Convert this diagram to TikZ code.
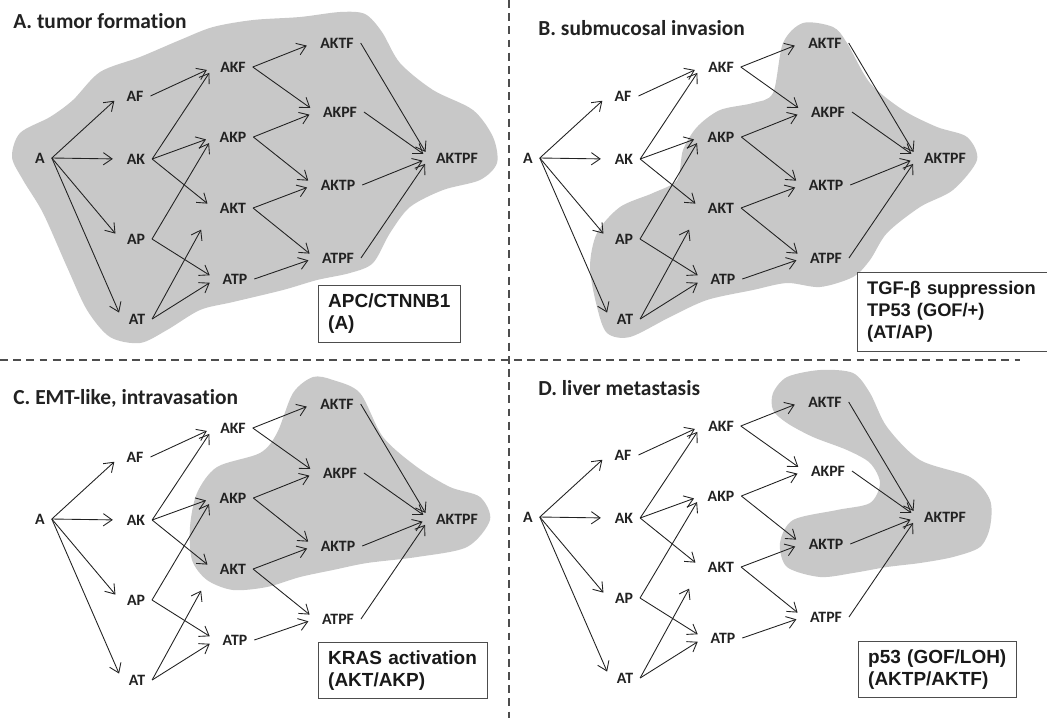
\documentclass[tikz,border=0pt]{standalone}
\usepackage{fontspec}
\setmainfont{Carlito}[Ligatures=NoCommon]
\newfontfamily\cajafont{Liberation Sans}
\usepackage{tikz}
\usetikzlibrary{arrows.meta}
\definecolor{gris}{HTML}{C8C8C8}
\definecolor{tinta}{HTML}{222222}
\definecolor{borde}{HTML}{4D4D4D}
\tikzset{
  every picture/.style={x=0.02cm, y=-0.02cm},
  gen/.style={font=\bfseries\fontsize{9}{10}\selectfont, text=tinta, inner sep=1pt, outer sep=3pt},
  titulo/.style={font=\bfseries\fontsize{12.2}{14}\selectfont, text=tinta, anchor=base west, inner sep=0pt},
  caja/.style={draw=borde, line width=0.6pt, fill=white, anchor=north west, align=left,
               font=\cajafont\bfseries\fontsize{10.8}{12.5}\selectfont, text=black!90, inner xsep=5.5pt},
  flecha/.style={-{Straight Barb[length=5pt, width=7pt]}, line width=0.5pt, tinta, shorten >=4pt},
  zona/.style={fill=gris},
  divisor/.style={line width=0.6pt, borde, dash pattern=on 4.5pt off 3pt},
}
\newcommand{\redclonal}[1]{%
  \node[gen] (#1A) at (40,158) {A};
  \node[gen] (#1AF) at (135,96) {AF};
  \node[gen] (#1AK) at (136,159) {AK};
  \node[gen] (#1AP) at (136,239) {AP};
  \node[gen] (#1AT) at (137,319) {AT};
  \node[gen] (#1AKF) at (233,67) {AKF};
  \node[gen] (#1AKP) at (233,137) {AKP};
  \node[gen] (#1AKT) at (233,208) {AKT};
  \node[gen] (#1ATP) at (235,279) {ATP};
  \node[gen] (#1AKTF) at (337,43) {AKTF};
  \node[gen] (#1AKPF) at (340,112) {AKPF};
  \node[gen] (#1AKTP) at (338,185) {AKTP};
  \node[gen] (#1ATPF) at (338,258) {ATPF};
  \node[gen] (#1AKTPF) at (457,158) {AKTPF};
  \foreach \ori/\des in {A/AF, A/AK, A/AP, A/AT, AF/AKF, AK/AKF, AK/AKP, AK/AKT,
      AP/AKP, AP/ATP, AT/ATP, AKF/AKTF, AKF/AKPF, AKP/AKPF, AKP/AKTP, AKT/AKTP,
      AKT/ATPF, ATP/ATPF, AKTF/AKTPF, AKPF/AKTPF, AKTP/AKTPF, ATPF/AKTPF}
    \draw[flecha] (#1\ori.east) -- (#1\des.west);
  \draw[flecha, shorten >=14pt] (#1AT.east) -- (#1AKT.west);
}

\begin{document}
\begin{tikzpicture}
  \useasboundingbox (0,0) rectangle (1047,718);
  \fill[zona] plot[smooth cycle] coordinates {(12,157) (20,133) (50,117) (73,100) (100,72)
    (140,57) (180,40) (213,27) (253,20) (300,17) (340,12) (365,14) (382,32) (400,63) (433,90)
    (473,110) (493,137) (497,163) (480,180) (443,190) (410,207) (390,233) (373,263) (350,273)
    (317,280) (283,290) (233,302) (200,310) (167,330) (140,343) (110,337) (87,310) (67,267)
    (43,213) (23,180)};
  \fill[zona] plot[smooth cycle] coordinates {(783,43) (773,93) (753,103) (720,110) (697,127)
    (683,150) (677,180) (653,193) (620,207) (597,233) (590,267) (597,307) (607,333) (630,337)
    (670,317) (707,300) (753,290) (787,283) (820,287) (853,277) (870,260) (887,233) (920,207)
    (953,190) (977,160) (967,137) (937,127) (903,110) (870,83) (847,43) (833,27) (803,23)};
  \fill[zona] plot[smooth cycle] coordinates {(293,393) (277,433) (260,453) (217,467) (197,493)
    (190,527) (192,560) (207,580) (233,590) (267,587) (300,577) (333,570) (367,563) (417,557)
    (467,547) (490,520) (480,497) (450,487) (417,467) (383,437) (360,393) (333,380) (313,377)};
  \fill[zona] plot[smooth cycle] coordinates {(773,393) (787,377) (820,370) (853,373) (870,393)
    (887,427) (920,460) (970,477) (990,500) (990,527) (980,547) (953,557) (920,563) (887,567)
    (853,573) (820,577) (787,567) (780,543) (793,520) (837,510) (870,503) (880,483) (870,463)
    (847,450) (813,437) (787,423) (773,410)};

  \draw[divisor] (509,0) -- (509,718);
  \draw[divisor] (0,360) -- (1020,360);

  \node[titulo] (tA) at (13,28) {A. tumor formation};
  \node[titulo] (tB) at (538,35) {B. submucosal invasion};
  \node[titulo] (tC) at (13,404) {C. EMT-like, intravasation};
  \node[titulo] (tD) at (538,395) {D. liver metastasis};

  \redclonal{a}
  \begin{scope}[shift={(488,0)}]
    \redclonal{b}
  \end{scope}
  \begin{scope}[shift={(0,361)}]
    \redclonal{c}
  \end{scope}
  \begin{scope}[shift={(488,359)}]
    \redclonal{d}
  \end{scope}

  \node[caja, text width=69.7pt, minimum height=32.3pt] (cajaA) at (318,285) {APC/CTNNB1\\(A)};
  \node[caja, text width=118pt, minimum height=44.8pt, font=\cajafont\bfseries\fontsize{10.4}{12.5}\selectfont]
    (cajaB) at (857,272) {TGF-β suppression\\TP53 (GOF/+)\\(AT/AP)};
  \node[caja, text width=85pt, minimum height=31.7pt] (cajaC) at (318,642) {KRAS activation\\(AKT/AKP)};
  \node[caja, text width=78.7pt, minimum height=31.7pt] (cajaD) at (858,641) {p53 (GOF/LOH)\\(AKTP/AKTF)};
\end{tikzpicture}
\end{document}
